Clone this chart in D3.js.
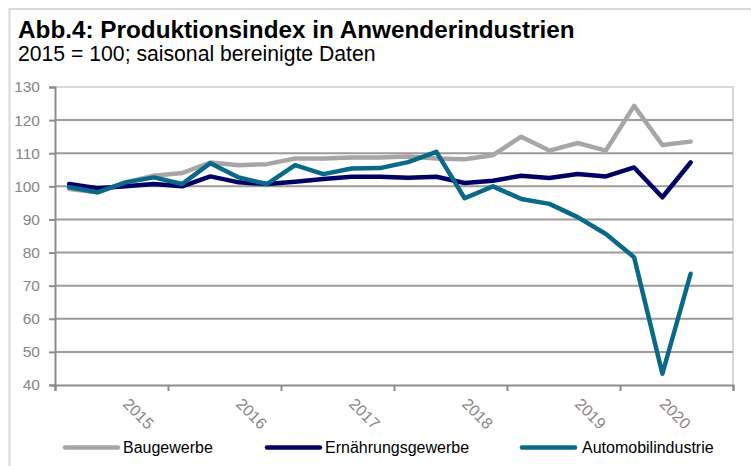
<!DOCTYPE html>
<html>
<head>
<meta charset="utf-8">
<script src="https://cdn.jsdelivr.net/npm/d3@7"></script>
<style>
  body { margin: 0; background: #fff; }
  text { font-family: "Liberation Sans", Arial, sans-serif; }
</style>
</head>
<body>
<div id="chart"></div>
<script>
// quarterly values 2015 Q1 .. 2020 Q3
const quarters = ["2015Q1","2015Q2","2015Q3","2015Q4","2016Q1","2016Q2","2016Q3","2016Q4",
  "2017Q1","2017Q2","2017Q3","2017Q4","2018Q1","2018Q2","2018Q3","2018Q4",
  "2019Q1","2019Q2","2019Q3","2019Q4","2020Q1","2020Q2","2020Q3"]
const baugewerbe = [99.2, 98.2, 101.2, 103.2, 104, 107.2, 106.4, 106.7, 108.4, 108.4, 108.7, 108.7,
  109, 108.4, 108.2, 109.4, 115, 110.8, 113.1, 110.8, 124.3, 112.5, 113.5]
const ernaehrung = [100.7, 99.4, 100, 100.7, 100, 103, 101.2, 100.7, 101.4, 102.2, 102.9, 102.9,
  102.6, 102.9, 101, 101.7, 103.2, 102.5, 103.7, 103, 105.7, 96.7, 107.2]
const automobil = [99.7, 98.2, 101.2, 102.7, 100.7, 107, 102.7, 100.7, 106.4, 103.7, 105.4, 105.5,
  107.3, 110.4, 96.4, 100, 96.2, 94.7, 90.7, 85.6, 78.6, 43.4, 73.6]

const years = ["2015","2016","2017","2018","2019","2020"]
const yearLabelAt = [2, 6, 10, 14, 18, 21]   // category index where Excel put each label
const yTicks = [40, 50, 60, 70, 80, 90, 100, 110, 120, 130]

const seriesNames = ["Baugewerbe", "Ernährungsgewerbe", "Automobilindustrie"]
const colors = ["#a6a6a6", "#000066", "#0a6889"]

const W = 751, H = 466
const plotLeft = 55, plotRight = 733, plotTop = 87, plotBottom = 385

let svg = d3.select("#chart").append("svg")
  .attr("width", W)
  .attr("height", H)

// outer frame (only left and top are visible)
svg.append("path")
  .attr("d", `M9.5,${H} L9.5,9 L${W},9`)
  .attr("fill", "none")
  .attr("stroke", "#d9d9d9")
  .attr("stroke-width", 2)

svg.append("text")
  .attr("x", 18).attr("y", 37.5)
  .attr("font-size", 24.3).attr("font-weight", "bold")
  .attr("fill", "#000")
  .text("Abb.4: Produktionsindex in Anwenderindustrien")

svg.append("text")
  .attr("x", 18).attr("y", 61)
  .attr("font-size", 21.2)
  .attr("fill", "#000")
  .text("2015 = 100; saisonal bereinigte Daten")

let x = d3.scaleLinear().domain([0, 24]).range([plotLeft, plotRight])
let y = d3.scaleLinear().domain([40, 130]).range([plotBottom, plotTop])

// plot border (light) on top and right
svg.append("path")
  .attr("d", `M${plotLeft},${y(130)} L${plotRight},${y(130)} L${plotRight},${plotBottom}`)
  .attr("fill", "none")
  .attr("stroke", "#d9d9d9")
  .attr("stroke-width", 2)

// gridlines
svg.selectAll(".grid")
  .data(yTicks.filter(t => t > 40 && t < 130))
  .enter()
  .append("line")
  .attr("class", "grid")
  .attr("x1", plotLeft).attr("x2", plotRight)
  .attr("y1", d => y(d)).attr("y2", d => y(d))
  .attr("stroke", "#9e9a96")
  .attr("stroke-width", 2)

// y axis
let yAxis = d3.axisLeft(y).tickValues(yTicks).tickSize(6).tickPadding(9)
let gy = svg.append("g").attr("transform", `translate(${plotLeft},0)`).call(yAxis)
gy.select(".domain").attr("stroke", "#8f8b87").attr("stroke-width", 2)
gy.selectAll(".tick line").attr("stroke", "#8f8b87").attr("stroke-width", 2)
gy.selectAll(".tick text")
  .attr("font-size", 15.5)
  .attr("font-family", "Liberation Sans, Arial, sans-serif")
  .attr("fill", "#8a8484")

// x axis: ticks at year boundaries
let xAxis = d3.axisBottom(x).tickValues([0, 4, 8, 12, 16, 20, 24]).tickSize(6).tickFormat("")
let gx = svg.append("g").attr("transform", `translate(0,${plotBottom})`).call(xAxis)
gx.select(".domain").attr("stroke", "#8f8b87").attr("stroke-width", 2)
gx.selectAll(".tick line").attr("stroke", "#8f8b87").attr("stroke-width", 2)

svg.selectAll(".year")
  .data(years)
  .enter()
  .append("text")
  .attr("class", "year")
  .attr("font-size", 16)
  .attr("fill", "#8a8484")
  .attr("transform", (d, i) => `translate(${x(yearLabelAt[i]) + 10.5},${plotBottom + 20}) rotate(45)`)
  .text(d => d)

// lines
let line = d3.line()
  .x((d, i) => x(i + 0.5))
  .y(d => y(d))

let allSeries = [baugewerbe, ernaehrung, automobil]
allSeries.forEach((s, k) => {
  svg.append("path")
    .datum(s)
    .attr("d", line)
    .attr("fill", "none")
    .attr("stroke", colors[k])
    .attr("stroke-width", 4.5)
    .attr("stroke-linejoin", "round")
    .attr("stroke-linecap", "round")
})

// legend
const legendX = [65, 267, 522]
seriesNames.forEach((name, k) => {
  svg.append("line")
    .attr("x1", legendX[k]).attr("x2", legendX[k] + 53)
    .attr("y1", 447.5).attr("y2", 447.5)
    .attr("stroke", colors[k])
    .attr("stroke-width", 4.5)
    .attr("stroke-linecap", "round")
  svg.append("text")
    .attr("x", legendX[k] + 58 + (k == 2 ? 2 : 0))
    .attr("y", 453)
    .attr("font-size", 16)
    .attr("fill", "#000")
    .text(name)
})
</script>
</body>
</html>
